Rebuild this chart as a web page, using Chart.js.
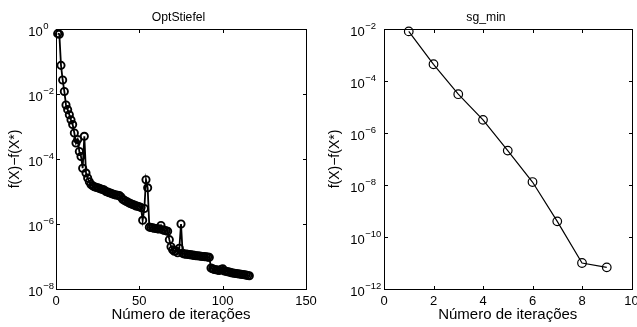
<!DOCTYPE html>
<html><head><meta charset="utf-8">
<script src="https://cdn.jsdelivr.net/npm/chart.js@4/dist/chart.umd.min.js"></script>
<style>
html,body{margin:0;padding:0;background:#fff;}
#wrap{position:relative;width:637px;height:327px;overflow:hidden;background:#fff;}
.pane{position:absolute;top:0;height:327px;}
</style></head><body>
<div id="wrap">
<div class="pane" style="left:0;width:318px;"><canvas id="c1" width="318" height="327"></canvas></div>
<div class="pane" style="left:318px;width:319px;"><canvas id="c2" width="319" height="327"></canvas></div>
</div>
<script>
// ---------- data ----------
const optIterations = [1,2,3,4,5,6,7,8,9,10,11,12,13,14,15,16,17,18,19,20,
 21,22,23,24,25,26,27,28,29,30,31,32,33,34,35,36,37,38,39,40,
 41,42,43,44,45,46,47,48,49,50,51,52,53,54,55,56,57,58,59,60,
 61,62,63,64,65,66,67,68,69,70,71,72,73,74,75,76,77,78,79,80,
 81,82,83,84,85,86,87,88,89,90,91,92,93,94,95,96,97,98,99,100,
 101,102,103,104,105,106,107,108,109,110,111,112,113,114,115,116];
const optValues = [7.2e-1,6.9e-1,7.6e-2,2.7e-2,1.2e-2,4.6e-3,3.3e-3,2.3e-3,1.6e-3,1.15e-3,
 6.3e-4,3.1e-4,4.0e-4,1.7e-4,1.2e-4,5.2e-5,5.0e-4,3.7e-5,2.6e-5,2.0e-5,
 1.65e-5,1.5e-5,1.4e-5,1.35e-5,1.3e-5,1.25e-5,1.2e-5,1.15e-5,1.1e-5,1.0e-5,
 9.6e-6,9.2e-6,8.8e-6,8.4e-6,8.0e-6,7.8e-6,7.6e-6,7.5e-6,6.8e-6,5.8e-6,
 5.4e-6,5.0e-6,4.7e-6,4.4e-6,4.2e-6,4.0e-6,3.8e-6,3.6e-6,3.5e-6,3.4e-6,
 3.2e-6,1.3e-6,3.0e-6,2.3e-5,1.3e-5,8.0e-7,7.8e-7,7.6e-7,7.4e-7,7.3e-7,
 7.1e-7,7.0e-7,9.0e-7,6.6e-7,6.4e-7,6.2e-7,6.0e-7,3.3e-7,2.0e-7,1.6e-7,
 1.45e-7,1.5e-7,1.3e-7,1.8e-7,1.0e-6,1.25e-7,1.2e-7,1.18e-7,1.16e-7,1.14e-7,
 1.12e-7,1.1e-7,1.08e-7,1.06e-7,1.05e-7,1.04e-7,1.02e-7,1.0e-7,9.9e-8,9.8e-8,
 9.6e-8,9.4e-8,4.4e-8,4.2e-8,4.0e-8,3.9e-8,3.8e-8,3.7e-8,4.0e-8,4.2e-8,
 3.6e-8,3.5e-8,3.4e-8,3.3e-8,3.2e-8,3.1e-8,3.05e-8,3.0e-8,2.95e-8,2.9e-8,
 2.85e-8,2.8e-8,2.75e-8,2.7e-8,2.6e-8,2.55e-8];

const sgIterations = [1,2,3,4,5,6,7,8,9];
const sgValues = [8.1e-3,4.4e-4,3.1e-5,3.2e-6,2.1e-7,1.3e-8,4.0e-10,1.0e-11,6.8e-12];

const optXTicks = [0,50,100,150];
const optYTicks = [1e0,1e-2,1e-4,1e-6,1e-8];
const optYExp = ['0','\u22122','\u22124','\u22126','\u22128'];
const sgXTicks = [0,2,4,6,8,10];
const sgYTicks = [1e-2,1e-4,1e-6,1e-8,1e-10,1e-12];
const sgYExp = ['\u22122','\u22124','\u22126','\u22128','\u221210','\u221212'];

const titles = ['OptStiefel','sg_min'];
const xLabel = 'N\u00famero de itera\u00e7\u00f5es';
const yLabel = 'f(X)\u2212f(X*)';

// ---------- drawing ----------
const FONT = '"Liberation Sans", Arial, Helvetica, sans-serif';

const matlabAxes = {
  id: 'matlabAxes',
  afterDraw(chart) {
    const o = chart.options.plugins.matlabAxes;
    const ctx = chart.ctx, a = chart.chartArea;
    const xs = chart.scales.x, ys = chart.scales.y;
    const L = Math.round(a.left), R = Math.round(a.right), T = Math.round(a.top), B = Math.round(a.bottom);
    ctx.save();
    ctx.strokeStyle = '#000';
    ctx.fillStyle = '#000';
    ctx.lineWidth = 1;
    ctx.strokeRect(L + 0.5, T + 0.5, R - L, B - T);
    const tl = 3;
    ctx.beginPath();
    o.xTicks.forEach(v => {
      const px = Math.round(xs.getPixelForValue(v)) + 0.5;
      ctx.moveTo(px, B); ctx.lineTo(px, B - tl);
      ctx.moveTo(px, T + 1); ctx.lineTo(px, T + 1 + tl);
    });
    o.yTicks.forEach(v => {
      const py = Math.round(ys.getPixelForValue(v)) + 0.5;
      ctx.moveTo(L + 1, py); ctx.lineTo(L + 1 + tl, py);
      ctx.moveTo(R, py); ctx.lineTo(R - tl, py);
    });
    ctx.stroke();
    // x tick labels
    ctx.font = '13px ' + FONT;
    ctx.textAlign = 'center';
    ctx.textBaseline = 'alphabetic';
    o.xTicks.forEach(v => {
      ctx.fillText(String(v), xs.getPixelForValue(v), 305);
    });
    // y tick labels 10^n
    o.yTicks.forEach((v, i) => {
      const py = ys.getPixelForValue(v);
      ctx.font = '13px ' + FONT;
      ctx.textAlign = 'left';
      ctx.fillText('10', o.yLabelX, py + 7.2);
      const w = ctx.measureText('10').width;
      ctx.font = '9.5px ' + FONT;
      ctx.fillText(o.yExp[i], o.yLabelX + w + 0.5, py - 0.4);
    });
    // title
    ctx.font = '12.2px ' + FONT;
    ctx.textAlign = 'center';
    ctx.fillText(o.title, o.titleX, 21);
    // x label
    ctx.font = '15px ' + FONT;
    ctx.fillText(o.xLabel, (a.left + a.right) / 2, 319);
    // y label
    ctx.font = '14px ' + FONT;
    ctx.save();
    ctx.translate(o.yTitleX, (a.top + a.bottom) / 2);
    ctx.rotate(-Math.PI / 2);
    ctx.textBaseline = 'middle';
    ctx.fillText(o.yLabel, 0, 0);
    ctx.restore();
    ctx.restore();
  }
};

function makeChart(id, xsArr, ysArr, cfg) {
  const pts = xsArr.map((x, i) => ({ x: x, y: ysArr[i] }));
  return new Chart(document.getElementById(id), {
    type: 'line',
    data: { datasets: [{
      data: pts,
      borderColor: '#000',
      borderWidth: cfg.lw,
      pointRadius: cfg.pr,
      pointBorderWidth: cfg.pbw,
      pointBorderColor: '#000',
      pointBackgroundColor: 'rgba(0,0,0,0)',
      pointStyle: 'circle',
      tension: 0,
      fill: false,
      clip: false
    }]},
    options: {
      responsive: false,
      animation: false,
      devicePixelRatio: 1,
      layout: { padding: cfg.padding },
      plugins: {
        legend: { display: false },
        tooltip: { enabled: false },
        matlabAxes: {
          xTicks: cfg.xTicks, yTicks: cfg.yTicks, yExp: cfg.yExp,
          yLabelX: cfg.yLabelX, title: cfg.title, titleX: cfg.titleX,
          xLabel: xLabel, yLabel: yLabel, yTitleX: cfg.yTitleX
        }
      },
      scales: {
        x: { type: 'linear', min: cfg.xMin, max: cfg.xMax, display: false },
        y: { type: 'logarithmic', min: cfg.yMin, max: cfg.yMax, display: false }
      }
    },
    plugins: [matlabAxes]
  });
}

makeChart('c1', optIterations, optValues, {
  lw: 1.8, pr: 3.6, pbw: 1.9,
  padding: { left: 56, right: 12, top: 29, bottom: 38 },
  xMin: 0, xMax: 150, yMin: 1e-8, yMax: 1,
  xTicks: optXTicks, yTicks: optYTicks, yExp: optYExp,
  yLabelX: 28.3, title: titles[0], titleX: 178.5, yTitleX: 15.5
});

makeChart('c2', sgIterations, sgValues, {
  lw: 1.2, pr: 4.3, pbw: 1.2,
  padding: { left: 66, right: 5, top: 29, bottom: 38 },
  xMin: 0, xMax: 10, yMin: 1e-12, yMax: 1e-2,
  xTicks: sgXTicks, yTicks: sgYTicks, yExp: sgYExp,
  yLabelX: 32.3, title: titles[1], titleX: 168, yTitleX: 17.5
});
</script>
</body></html>
